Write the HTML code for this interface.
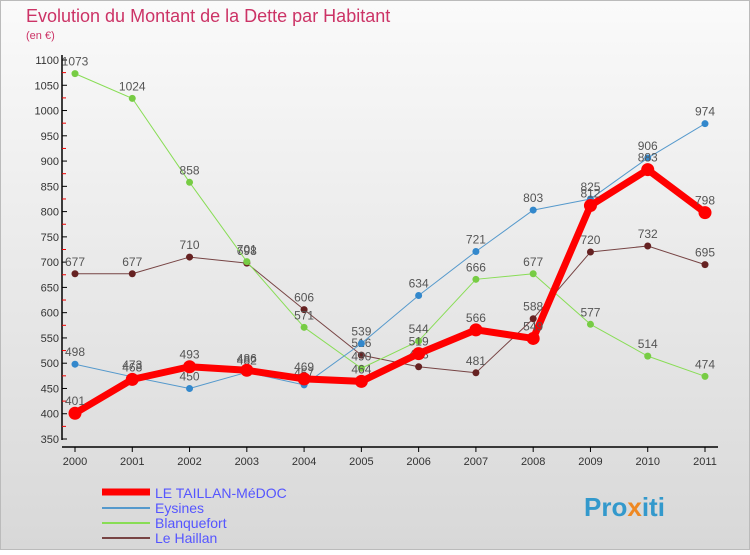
<!DOCTYPE html>
<html><head><meta charset="utf-8"><style>
body{margin:0;width:750px;height:550px;overflow:hidden;font-family:"Liberation Sans",sans-serif}
</style></head><body>
<svg width="750" height="550">
<defs><linearGradient id="bg" x1="0" y1="0" x2="0" y2="1"><stop offset="0" stop-color="#fafafa"/><stop offset="1" stop-color="#d8d8d8"/></linearGradient></defs>
<rect x="0.5" y="0.5" width="749" height="549" fill="url(#bg)" stroke="#bbb"/>
<text x="26" y="22" font-size="18" fill="#cc3366">Evolution du Montant de la Dette par Habitant</text>
<text x="26" y="39" font-size="11" fill="#cc3366">(en €)</text>
<g id="axes"></g><g id="series"></g>
<g font-size="14">
<line x1="102" y1="492" x2="150" y2="492" stroke="#f00" stroke-width="7"/>
<text x="155" y="498" fill="#5555ff">LE TAILLAN-MéDOC</text>
<line x1="102" y1="508" x2="150" y2="508" stroke="#5599cc" stroke-width="2"/>
<text x="155" y="513" fill="#5555ff">Eysines</text>
<line x1="102" y1="523" x2="150" y2="523" stroke="#88dd55" stroke-width="2"/>
<text x="155" y="528" fill="#5555ff">Blanquefort</text>
<line x1="102" y1="538" x2="150" y2="538" stroke="#774444" stroke-width="2"/>
<text x="155" y="543" fill="#5555ff">Le Haillan</text>
</g>
<text x="584" y="516" font-size="26" font-weight="bold" fill="#3399cc">Pro<tspan fill="#ee8822">x</tspan>iti</text>
</svg>
<script>
const years=["2000","2001","2002","2003","2004","2005","2006","2007","2008","2009","2010","2011"];
const yTicks=[350,400,450,500,550,600,650,700,750,800,850,900,950,1000,1050,1100];
const taillan=[401,468,493,486,469,464,519,566,549,812,883,798];
const eysines=[498,473,450,482,457,539,634,721,803,825,906,974];
const blanquefort=[1073,1024,858,701,571,490,544,666,677,577,514,474];
const haillan=[677,677,710,698,606,516,493,481,588,720,732,695];
const NS="http://www.w3.org/2000/svg";
const X=i=>75+i*(630/11);
const Y=v=>439-(v-350)*(379/750);
function mk(t,a,p){const e=document.createElementNS(NS,t);for(const k in a)e.setAttribute(k,a[k]);p.appendChild(e);return e;}
const ax=document.getElementById('axes');
let l=mk('line',{x1:62,y1:55,x2:62,y2:440,stroke:'#000','stroke-width':1.5},ax);


l=mk('line',{x1:62,y1:447,x2:718,y2:447,stroke:'#000','stroke-width':1.5},ax);


yTicks.forEach((v,i)=>{
 mk('line',{x1:62,y1:Y(v),x2:67,y2:Y(v),stroke:'#000'},ax);
 if(i<yTicks.length-1) mk('line',{x1:62,y1:Y(v+25),x2:66,y2:Y(v+25),stroke:'#e00'},ax);
 const t=mk('text',{x:59,y:Y(v)+4,'font-size':11,'text-anchor':'end',fill:'#333'},ax);t.textContent=v;
 
 
});
years.forEach((y,i)=>{
 mk('line',{x1:X(i),y1:447,x2:X(i),y2:452,stroke:'#000'},ax);
 const t=mk('text',{x:X(i),y:465,'font-size':11,'text-anchor':'middle',fill:'#333'},ax);t.textContent=y;
 
 
});
const sg=document.getElementById('series');
function draw(vals,col,w,r,name,dot){
 const g=mk('g',{},sg);
 
 
 const p=mk('polyline',{points:vals.map((v,i)=>X(i)+','+Y(v)).join(' '),fill:'none',stroke:col,'stroke-width':w,'stroke-linejoin':'round'},g);
 
 
 vals.forEach((v,i)=>{
  const c=mk('circle',{cx:X(i),cy:Y(v),r:r,fill:dot},g);
  
  
  const t=mk('text',{x:X(i),y:Y(v)-8,'font-size':12,'text-anchor':'middle',fill:'#555'},g);t.textContent=v;
  
  
 });
}
draw(haillan,'#774444',1,3.5,'le-haillan','#662222');
draw(blanquefort,'#88dd55',1,3.5,'blanquefort','#77cc44');
draw(eysines,'#5599cc',1,3.5,'eysines','#3388cc');
draw(taillan,'#ff0000',7,6.5,'taillan','#ff0000');
</script>
</body></html>
